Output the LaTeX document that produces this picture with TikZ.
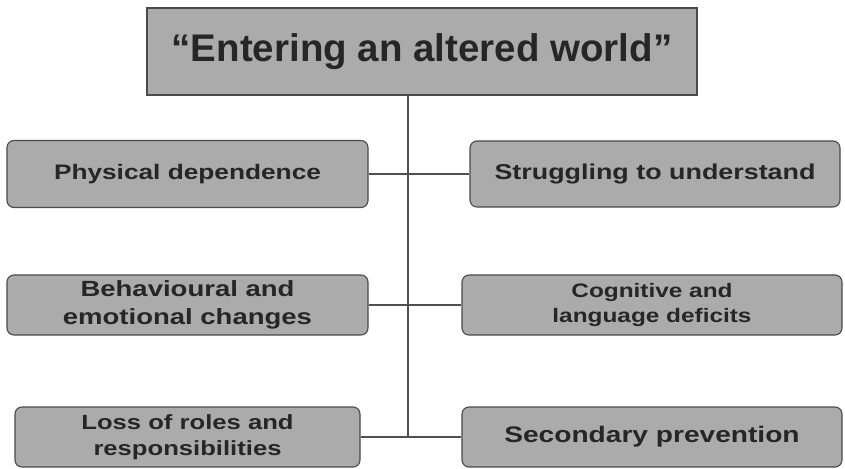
\documentclass[tikz,border=0pt]{standalone}
\usepackage{fontspec}
\setmainfont{Liberation Sans}
% wide bold face for the theme boxes
\newfontfamily\themefont{Liberation Sans}[FakeStretch=1.25]
\definecolor{boxfill}{HTML}{ABABAB}
\definecolor{boxline}{HTML}{4A4A4A}
\definecolor{inkdark}{HTML}{262626}
\definecolor{connline}{HTML}{505050}
\tikzset{
  titlebox/.style={draw=boxline, line width=1.1pt, fill=boxfill, inner sep=0pt,
    text=inkdark, font=\bfseries\fontsize{38.5}{42}\selectfont},
  themebox/.style={draw=boxline, line width=1.1pt, fill=boxfill, inner sep=0pt,
    rounded corners=7pt, align=center, text=inkdark},
  themetext/.style 2 args={font=\themefont\bfseries\fontsize{#1}{#2}\selectfont},
  conn/.style={draw=connline, line width=1.1pt}
}
\begin{document}
\begin{tikzpicture}[x=1pt, y=-1pt]
\useasboundingbox (0,0) rectangle (845,468);

% central theme
\node[titlebox, minimum width=550pt, minimum height=87pt] (title) at (422,51.5)
  {“Entering an altered world”};

% sub-themes, left column
\node[themebox, themetext={21}{25}, minimum width=361pt, minimum height=67pt]
  (phys) at (187.5,174) {Physical dependence};
\node[themebox, themetext={22}{27.5}, minimum width=361pt, minimum height=60pt]
  (behav) at (187.5,305) {Behavioural and\\emotional changes};
\node[themebox, themetext={20.5}{25.5}, minimum width=345pt, minimum height=60pt]
  (roles) at (187.5,437) {Loss of roles and\\responsibilities};

% sub-themes, right column
\node[themebox, themetext={21.5}{25}, minimum width=370pt, minimum height=66pt]
  (strug) at (655,174) {Struggling to understand};
\node[themebox, themetext={19.5}{25}, minimum width=380pt, minimum height=60pt]
  (cogn) at (652,305) {Cognitive and\\language deficits};
\node[themebox, themetext={22.5}{26}, minimum width=380pt, minimum height=60pt]
  (prev) at (652,437) {Secondary prevention};

% trunk from the central theme down to the last branch
\coordinate (trunk) at (408,437);
\draw[conn] (title.south -| trunk) -- (trunk);

% branches across the trunk
\draw[conn] (phys.east) -- (phys.east -| strug.west);
\draw[conn] (behav.east) -- (behav.east -| cogn.west);
\draw[conn] (roles.east) -- (roles.east -| prev.west);
\end{tikzpicture}
\end{document}
